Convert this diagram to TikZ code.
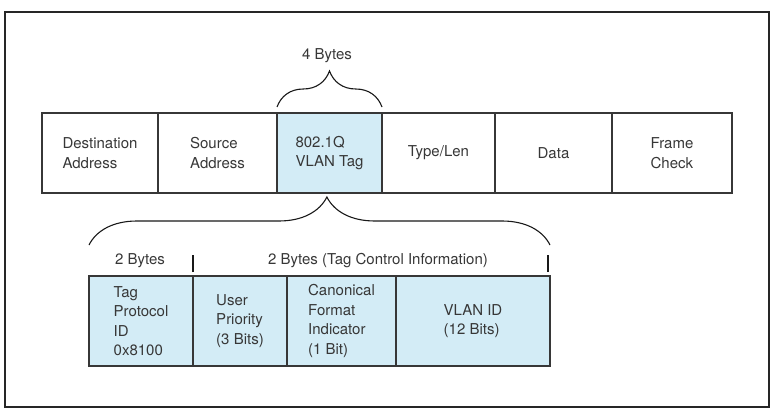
\documentclass[tikz,border=0pt]{standalone}
\usepackage{fontspec}
\setmainfont{TeX Gyre Heros}
\usetikzlibrary{positioning, decorations.pathreplacing}

\definecolor{tagblue}{RGB}{211, 236, 246}
\definecolor{inkgray}{RGB}{55, 55, 55}

\begin{document}
\begin{tikzpicture}[x = 1pt, y = -1pt,
    every node/.style = {font = \fontsize{15}{19.5}\selectfont, text = inkgray, align = left},
    field/.style = {draw = inkgray, line width = 1.1pt, minimum height = 80pt, inner sep = 0pt, outer sep = 0pt},
    subfield/.style = {field, fill = tagblue, minimum height = 90pt},
    bracket/.style = {draw = black!90, line width = 1.1pt, decorate, decoration = {brace, amplitude = #1}},
    sizetick/.style = {draw = black!90, line width = 1.1pt}]
            \useasboundingbox (0, 0) rectangle (774, 412);
            \draw[line width = 2.5pt, draw = black!85] (5, 12) rectangle (769, 407);

            % Ethernet frame
            \node[field, anchor = west, minimum width = 116pt] (dst) at (42, 153) {Destination \\ Address};
            \node[field, minimum width = 119pt, right = 0pt of dst] (src) {Source \\ Address};
            \node[field, fill = tagblue, minimum width = 105pt, right = 0pt of src] (tag) {802.1Q \\ VLAN Tag};
            \node[field, minimum width = 113pt, right = 0pt of tag] (typelen) {Type/Len};
            \node[field, minimum width = 117pt, right = 0pt of typelen] (data) {Data};
            \node[field, minimum width = 120pt, right = 0pt of data] (fcs) {Frame \\ Check};

            \draw[bracket = 36pt] ([yshift = 6pt] tag.north west) -- ([yshift = 6pt] tag.north east);
            \node[] (tagsize) at (327, 56) {4 Bytes};

            % tag fields
            \node[subfield, anchor = west, minimum width = 104pt] (tpid) at (89, 321) {Tag \\ Protocol \\ ID \\ 0x8100};
            \node[subfield, minimum width = 94pt, right = 0pt of tpid] (prio) {User \\ Priority \\ (3 Bits)};
            \node[subfield, minimum width = 109pt, right = 0pt of prio] (cfi) {Canonical \\ Format \\ Indicator \\ (1 Bit)};
            \node[subfield, minimum width = 154pt, right = 0pt of cfi] (vid) {VLAN ID \\ (12 Bits)};

            \draw[bracket = 48pt, decoration = {aspect = 0.516}] ([yshift = 31pt] tpid.north west) -- ([yshift = 31pt] vid.north east);
            \draw[sizetick] ([yshift = 4pt] prio.north west) -- ([yshift = 21pt] prio.north west);
            \draw[sizetick] ([xshift = -2pt, yshift = 4pt] vid.north east) -- ([xshift = -2pt, yshift = 21pt] vid.north east);
            \node[] (tpidsize) at (140, 261) {2 Bytes};
            \node[] (tcisize) at (378, 261) {2 Bytes (Tag Control Information)};
        \end{tikzpicture}
\end{document}
